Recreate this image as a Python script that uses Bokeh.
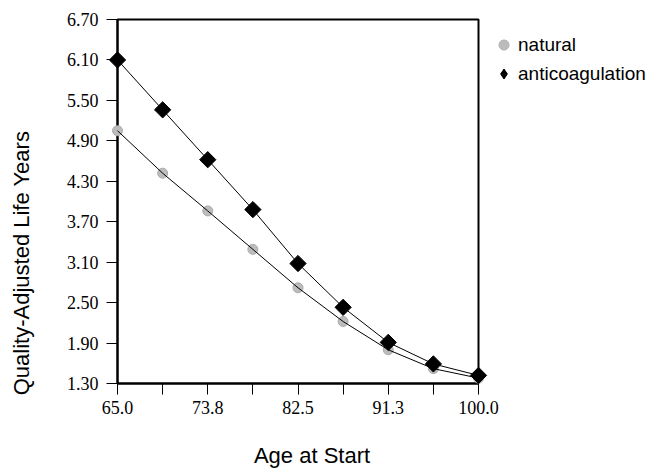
import math
from bokeh.plotting import figure
from bokeh.models import Range1d, FixedTicker, Legend, LegendItem, ColumnDataSource
from bokeh.core.properties import value
from bokeh.embed import file_html
from bokeh.resources import INLINE

# ---- data ----
age = [65.0, 69.375, 73.75, 78.125, 82.5, 86.875, 91.25, 95.625, 100.0]
natural = [5.05, 4.42, 3.86, 3.29, 2.72, 2.22, 1.80, 1.52, 1.38]
anticoagulation = [6.10, 5.36, 4.62, 3.88, 3.08, 2.43, 1.91, 1.59, 1.42]

x_ticks = [65.0, 73.75, 82.5, 91.25, 100.0]
x_tick_labels = ["65.0", "73.8", "82.5", "91.3", "100.0"]
x_minor_ticks = [69.375, 78.125, 86.875, 95.625]
y_ticks = [1.30, 1.90, 2.50, 3.10, 3.70, 4.30, 4.90, 5.50, 6.10, 6.70]
y_tick_labels = ["1.30", "1.90", "2.50", "3.10", "3.70", "4.30", "4.90", "5.50", "6.10", "6.70"]

series_names = ["natural", "anticoagulation"]
x_label = "Age at Start"
y_label = "Quality-Adjusted Life Years"

TICK_FONT = "Liberation Serif"
SANS = "Liberation Sans"

# frame geometry (pixels)
FL, FT, FW, FH = 117, 19, 361, 364
X0, X1, Y0, Y1 = 65.0, 100.0, 1.3, 6.7

p = figure(frame_width=FW, frame_height=FH, output_backend="svg", toolbar_location=None,
           x_range=Range1d(X0, X1), y_range=Range1d(Y0, Y1),
           min_border_left=FL, min_border_right=10, min_border_top=FT,
           min_border_bottom=86)
p.grid.visible = False
p.outline_line_color = "black"
p.outline_line_width = 2
p.background_fill_color = "white"
p.border_fill_color = "white"


def px_to_x(px):
    return X0 + (px - FL) / FW * (X1 - X0)


def py_to_y(py):
    return Y0 + (FT + FH - py) / FH * (Y1 - Y0)


# axes
p.xaxis.ticker = FixedTicker(ticks=x_ticks, minor_ticks=x_minor_ticks)
p.xaxis.major_label_overrides = {t: l for t, l in zip(x_ticks, x_tick_labels)}
p.yaxis.ticker = FixedTicker(ticks=y_ticks)
p.yaxis.major_label_overrides = {t: l for t, l in zip(y_ticks, y_tick_labels)}

for ax in (p.xaxis, p.yaxis):
    ax.axis_line_color = "black"
    ax.axis_line_width = 2
    ax.major_tick_line_color = "black"
    ax.major_tick_line_width = 1
    ax.major_tick_in = 0
    ax.major_tick_out = 11
    ax.major_label_text_font = TICK_FONT
    ax.major_label_text_font_size = "18px"
    ax.major_label_text_color = "black"

p.xaxis.minor_tick_in = 0
p.xaxis.minor_tick_out = 11
p.xaxis.minor_tick_line_color = "black"
p.xaxis.minor_tick_line_width = 1
p.yaxis.minor_tick_line_color = None

p.xaxis.major_label_standoff = 6
p.yaxis.major_label_standoff = 8

# axis titles (placed off-centre, as in the reference)
p.text(x=[px_to_x(311.5)], y=[py_to_y(455)], text=[x_label],
       text_font=value(SANS), text_font_size="22px", text_color="black",
       text_align="center", text_baseline="alphabetic", level="overlay")
p.text(x=[px_to_x(21)], y=[py_to_y(262.5)], text=[y_label], angle=math.pi / 2,
       text_font=value(SANS), text_font_size="22px", text_color="black",
       text_align="center", text_baseline="alphabetic", level="overlay")

src = ColumnDataSource(dict(x=age, nat=natural, anti=anticoagulation))

# natural markers (light grey circles)
p.scatter("x", "nat", source=src, marker="circle", size=10,
          fill_color="#bcbcbc", line_color="#ababab", line_width=1, level="overlay")
# connecting lines
p.line("x", "nat", source=src, line_color="black", line_width=1, level="overlay")
p.line("x", "anti", source=src, line_color="black", line_width=1, level="overlay")
# anticoagulation markers (black diamonds)
p.scatter("x", "anti", source=src, marker="square", angle=math.pi / 4, size=11.5,
          fill_color="black", line_color="black", level="overlay")

# legend-only renderers (nothing plotted)
nan = float("nan")
dummy = ColumnDataSource(dict(x=[nan], y=[nan]))
leg_nat = p.scatter("x", "y", source=dummy, marker="circle",
                    fill_color="#bcbcbc", line_color="#b0b0b0")
leg_anti = p.scatter("x", "y", source=dummy, marker="diamond",
                     fill_color="black", line_color="black")

legend = Legend(items=[LegendItem(label=series_names[0], renderers=[leg_nat]),
                       LegendItem(label=series_names[1], renderers=[leg_anti])],
                location="top_left")
legend.background_fill_alpha = 0
legend.border_line_alpha = 0
legend.padding = 13
legend.margin = 0
legend.glyph_width = 25
legend.glyph_height = 25
legend.label_height = 20
legend.label_standoff = 2
legend.spacing = 4
legend.label_text_font = SANS
legend.label_text_font_size = "19px"
legend.label_text_color = "black"
p.add_layout(legend, "right")

open("out.html", "w").write(file_html(p, INLINE))
